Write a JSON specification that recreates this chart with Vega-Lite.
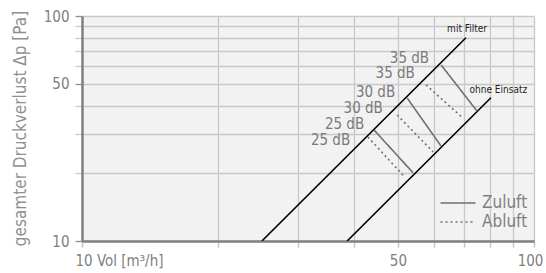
{
  "$schema": "https://vega.github.io/schema/vega-lite/v6.json",
  "autosize": "none",
  "width": 452,
  "height": 225,
  "padding": {"left": 82, "top": 16, "right": 12, "bottom": 32},
  "background": "white",
  "config": {
    "view": {"fill": "#f2f2f2", "stroke": null},
    "font": "DejaVu Sans Condensed, sans-serif"
  },
  "datasets": {
    "curves": [
      {"curve": "mit Filter", "V": 25, "p": 10},
      {"curve": "mit Filter", "V": 70.7, "p": 80},
      {"curve": "ohne Einsatz", "V": 38.6, "p": 10},
      {"curve": "ohne Einsatz", "V": 80.3, "p": 43.3}
    ],
    "segments": [
      {"seg": "Z35", "type": "Zuluft", "V": 62.3, "p": 60.6},
      {"seg": "Z35", "type": "Zuluft", "V": 74.8, "p": 37.8},
      {"seg": "A35", "type": "Abluft", "V": 57.7, "p": 49.4},
      {"seg": "A35", "type": "Abluft", "V": 69.6, "p": 35.2},
      {"seg": "Z30", "type": "Zuluft", "V": 52.4, "p": 43.2},
      {"seg": "Z30", "type": "Zuluft", "V": 62.3, "p": 26.4},
      {"seg": "A30", "type": "Abluft", "V": 49.8, "p": 36.3},
      {"seg": "A30", "type": "Abluft", "V": 59.8, "p": 24.9},
      {"seg": "Z25", "type": "Zuluft", "V": 44.3, "p": 31.1},
      {"seg": "Z25", "type": "Zuluft", "V": 54.0, "p": 20.1},
      {"seg": "A25", "type": "Abluft", "V": 42.9, "p": 29.0},
      {"seg": "A25", "type": "Abluft", "V": 51.8, "p": 19.2}
    ],
    "dblabels": [
      {"label": "35 dB", "V": 58.6, "p": 61.8},
      {"label": "35 dB", "V": 54.5, "p": 53.0},
      {"label": "30 dB", "V": 49.3, "p": 43.6},
      {"label": "30 dB", "V": 46.3, "p": 37.1},
      {"label": "25 dB", "V": 42.1, "p": 31.4},
      {"label": "25 dB", "V": 39.2, "p": 26.7}
    ],
    "curvelabels": [
      {"label": "mit Filter", "V": 71.1, "p": 84.9},
      {"label": "ohne Einsatz", "V": 83.4, "p": 45.5}
    ]
  },
  "layer": [
    {
      "data": {"name": "curves"},
      "mark": {"type": "line", "color": "black", "strokeWidth": 1.6, "clip": true},
      "encoding": {
        "x": {
          "field": "V", "type": "quantitative",
          "scale": {"type": "log", "domain": [10, 100], "nice": false},
          "axis": {
            "title": null,
            "values": [10, 20, 30, 40, 50, 60, 70, 80, 90, 100],
            "labelExpr": "datum.value == 10 ? '10 Vol [m³/h]' : (datum.value == 50 || datum.value == 100 ? datum.label : '')",
            "labelAlign": {"condition": {"test": "datum.value == 10", "value": "left"}, "value": "center"},
            "labelOffset": {"condition": [{"test": "datum.value == 10", "value": -7}, {"test": "datum.value == 100", "value": -4}], "value": 0},
            "labelFontSize": 15,
            "labelColor": "#808080",
            "labelPadding": 6,
            "labelFlush": false,
            "labelOverlap": false,
            "domainColor": "#808080",
            "domainWidth": 2.5,
            "tickColor": "#c4c4c4",
            "tickSize": 6,
            "tickWidth": 1.5,
            "grid": true,
            "gridColor": "#c8c8c8",
            "gridWidth": 1.3
          }
        },
        "y": {
          "field": "p", "type": "quantitative",
          "scale": {"type": "log", "domain": [10, 100], "nice": false},
          "axis": {
            "title": "gesamter Druckverlust Δp [Pa]",
            "titleFontSize": 17,
            "titleFontWeight": "normal",
            "titleColor": "#909090",
            "titleAngle": -90,
            "titleAlign": "center",
            "titleBaseline": "middle",
            "titleX": -62,
            "titleY": 112,
            "values": [10, 20, 30, 40, 50, 60, 70, 80, 90, 100],
            "labelExpr": "datum.value == 10 || datum.value == 50 || datum.value == 100 ? datum.label : ''",
            "labelFontSize": 15,
            "labelColor": "#808080",
            "labelPadding": 6,
            "labelOverlap": false,
            "domainColor": "#808080",
            "domainWidth": 2.5,
            "tickColor": {"condition": {"test": "datum.value == 10 || datum.value == 50 || datum.value == 100", "value": "#909090"}, "value": "#c8c8c8"},
            "tickSize": 7,
            "tickWidth": 1.3,
            "grid": true,
            "gridColor": "#c8c8c8",
            "gridWidth": 1.3
          }
        },
        "detail": {"field": "curve"}
      }
    },
    {
      "data": {"name": "segments"},
      "mark": {"type": "line", "color": "#707070", "strokeWidth": 1.6},
      "encoding": {
        "x": {"field": "V", "type": "quantitative"},
        "y": {"field": "p", "type": "quantitative"},
        "detail": {"field": "seg"},
        "strokeDash": {
          "field": "type", "type": "nominal",
          "scale": {"domain": ["Zuluft", "Abluft"], "range": [[1, 0], [2, 3]]},
          "legend": {
            "title": null,
            "orient": "none",
            "legendX": 365,
            "legendY": 176,
            "padding": 0,
            "symbolType": "M-1.75,0H1.75",
            "symbolSize": 400,
            "symbolStrokeWidth": 1.6,
            "symbolStrokeColor": "#707070",
            "labelFontSize": 17,
            "labelColor": "#808080",
            "labelOffset": 13,
            "rowPadding": 0
          }
        }
      }
    },
    {
      "data": {"name": "dblabels"},
      "mark": {"type": "text", "align": "right", "baseline": "alphabetic", "fontSize": 15, "color": "#7a7a7a"},
      "encoding": {
        "x": {"field": "V", "type": "quantitative"},
        "y": {"field": "p", "type": "quantitative"},
        "text": {"field": "label"}
      }
    },
    {
      "data": {"name": "curvelabels"},
      "mark": {"type": "text", "align": "center", "baseline": "alphabetic", "fontSize": 10, "color": "#222222"},
      "encoding": {
        "x": {"field": "V", "type": "quantitative"},
        "y": {"field": "p", "type": "quantitative"},
        "text": {"field": "label"}
      }
    }
  ]
}
